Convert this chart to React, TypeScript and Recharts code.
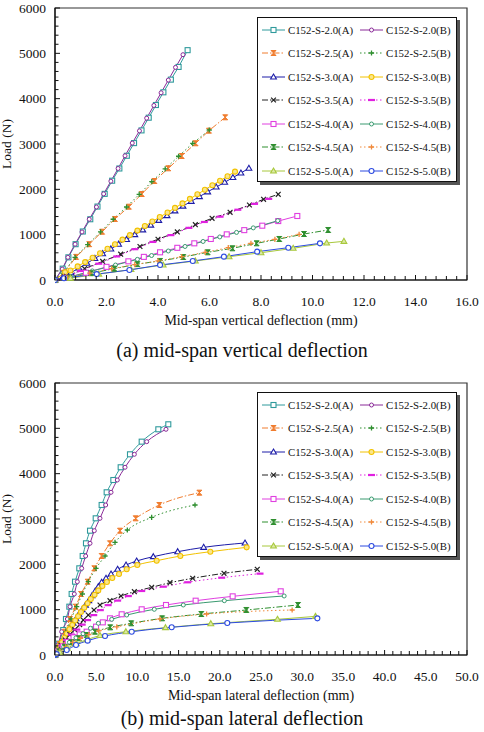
import React from 'react';
import { LineChart, Line, XAxis, YAxis, ReferenceArea, Legend } from 'recharts';

// ---- (a) mid-span vertical deflection: deflection (mm) / load (N) ----
const vert20A_d = [0, 0.30, 0.52, 0.80, 1.08, 1.37, 1.65, 1.93, 2.22, 2.50, 2.79, 3.07, 3.36, 3.64, 3.92, 4.21, 4.50, 4.80, 5.15];
const vert20A_p = [0, 250, 500, 790, 1070, 1340, 1620, 1900, 2190, 2460, 2740, 3020, 3300, 3580, 3860, 4140, 4420, 4700, 5070];
const vert20B_d = [0, 0.28, 0.50, 0.78, 1.05, 1.33, 1.61, 1.89, 2.17, 2.45, 2.72, 3.00, 3.28, 3.56, 3.84, 4.12, 4.40, 4.68, 4.97];
const vert20B_p = [0, 240, 500, 790, 1060, 1340, 1610, 1900, 2180, 2460, 2740, 3020, 3290, 3570, 3850, 4130, 4410, 4690, 4970];
const vert25A_d = [0, 0.35, 0.82, 1.33, 1.83, 2.33, 2.87, 3.37, 3.86, 4.40, 4.92, 5.46, 5.98, 6.61];
const vert25A_p = [0, 160, 510, 790, 1065, 1346, 1617, 1897, 2184, 2464, 2735, 3016, 3294, 3589];
const vert25B_d = [0, 0.30, 0.78, 1.27, 1.77, 2.26, 2.78, 3.27, 3.76, 4.28, 4.80, 5.35, 5.99];
const vert25B_p = [0, 150, 500, 780, 1060, 1340, 1610, 1890, 2170, 2450, 2730, 3015, 3309];
const vert30A_d = [0, 0.30, 0.62, 0.93, 1.24, 1.55, 1.85, 2.17, 2.47, 2.78, 3.10, 3.41, 3.72, 4.03, 4.35, 4.66, 4.97, 5.29, 5.61, 5.93, 6.26, 6.59, 6.91, 7.22, 7.53];
const vert30A_p = [0, 60, 160, 265, 370, 475, 580, 685, 790, 895, 1000, 1105, 1210, 1315, 1420, 1525, 1630, 1735, 1840, 1945, 2050, 2155, 2260, 2360, 2465];
const vert30B_d = [0, 0.39, 0.60, 0.88, 1.17, 1.46, 1.75, 2.04, 2.33, 2.62, 2.91, 3.20, 3.49, 3.78, 4.07, 4.37, 4.66, 4.95, 5.24, 5.53, 5.82, 6.11, 6.41, 6.70, 6.99];
const vert30B_p = [0, 170, 210, 300, 395, 490, 590, 690, 790, 890, 990, 1090, 1190, 1290, 1390, 1490, 1590, 1690, 1790, 1890, 1990, 2090, 2190, 2290, 2390];
const vert35A_d = [0, 0.45, 1.15, 1.85, 2.55, 3.30, 4.00, 4.75, 5.45, 6.10, 6.80, 7.55, 8.10, 8.67];
const vert35A_p = [0, 80, 250, 410, 570, 740, 900, 1060, 1220, 1360, 1493, 1655, 1780, 1890];
const vert35B_d = [0, 0.40, 1.00, 1.70, 2.40, 3.10, 3.80, 4.50, 5.20, 5.80, 6.41, 7.10, 7.75, 8.30];
const vert35B_p = [0, 60, 200, 360, 520, 680, 840, 990, 1150, 1280, 1397, 1550, 1680, 1790];
const vert40A_d = [0, 0.45, 1.20, 2.00, 2.85, 3.45, 4.08, 4.75, 5.41, 6.05, 6.67, 7.35, 8.05, 8.67, 9.41];
const vert40A_p = [0, 50, 160, 290, 412, 510, 611, 710, 809, 905, 1007, 1100, 1198, 1300, 1412];
const vert40B_d = [0, 0.60, 1.45, 2.35, 3.20, 3.75, 4.40, 5.05, 5.75, 6.40, 7.05, 7.70, 8.65];
const vert40B_p = [0, 70, 200, 330, 455, 540, 640, 740, 850, 950, 1050, 1150, 1308];
const vert45A_d = [0, 0.55, 1.40, 2.30, 3.20, 4.08, 4.98, 5.93, 6.89, 7.83, 8.71, 9.67, 10.61];
const vert45A_p = [0, 50, 150, 250, 350, 420, 507, 611, 699, 809, 905, 1015, 1103];
const vert45B_d = [0, 0.50, 1.35, 2.20, 3.10, 4.00, 4.92, 5.83, 6.73, 7.61, 8.54, 9.48];
const vert45B_p = [0, 50, 150, 250, 340, 420, 514, 611, 713, 809, 898, 1008];
const vert50A_d = [0, 0.60, 1.70, 2.95, 4.20, 5.45, 6.76, 8.00, 9.25, 10.55, 11.22];
const vert50A_p = [0, 40, 130, 230, 330, 420, 514, 602, 699, 816, 853];
const vert50B_d = [0, 0.35, 1.62, 2.89, 4.08, 5.35, 6.56, 7.85, 9.06, 10.29];
const vert50B_p = [0, 40, 130, 221, 331, 419, 515, 625, 713, 809];

// ---- (b) mid-span lateral deflection: deflection (mm) / load (N) ----
const lat20A_d = [0, 0.45, 1.00, 1.33, 1.74, 2.02, 2.43, 2.95, 3.36, 3.76, 4.25, 4.94, 5.66, 6.27, 7.08, 7.97, 9.10, 10.52, 12.54, 13.75];
const lat20A_p = [0, 250, 551, 794, 1066, 1346, 1617, 1912, 2184, 2464, 2742, 3015, 3309, 3589, 3860, 4141, 4427, 4706, 4979, 5089];
const lat20B_d = [0, 0.40, 0.81, 1.50, 1.82, 2.34, 2.71, 3.24, 3.72, 4.25, 4.77, 5.46, 6.15, 6.80, 7.56, 8.50, 9.63, 11.13, 13.47];
const lat20B_p = [0, 230, 514, 794, 1066, 1346, 1617, 1912, 2184, 2464, 2742, 3015, 3309, 3589, 3860, 4141, 4427, 4706, 4979];
const lat25A_d = [0, 0.55, 1.21, 1.82, 2.51, 3.16, 3.96, 4.77, 5.66, 6.67, 7.89, 9.79, 12.66, 17.52];
const lat25A_p = [0, 240, 514, 794, 1066, 1346, 1617, 1912, 2184, 2464, 2742, 3015, 3309, 3581];
const lat25B_d = [0, 0.60, 1.30, 1.94, 2.63, 3.32, 4.04, 4.98, 6.07, 7.28, 8.78, 11.73, 16.99];
const lat25B_p = [0, 240, 510, 794, 1066, 1346, 1617, 1912, 2184, 2486, 2757, 3037, 3309];
const lat30A_d = [0, 0.30, 0.60, 0.90, 1.20, 1.50, 1.85, 2.20, 2.55, 2.90, 3.30, 3.70, 4.10, 4.50, 4.88, 5.26, 5.66, 6.19, 6.80, 7.60, 8.62, 9.91, 11.93, 14.89, 18.04, 23.06];
const lat30A_p = [0, 100, 200, 300, 400, 500, 600, 700, 800, 900, 1000, 1100, 1200, 1310, 1410, 1507, 1604, 1692, 1787, 1890, 1985, 2074, 2169, 2279, 2375, 2471];
const lat30B_d = [0, 0.25, 0.55, 0.85, 1.15, 1.45, 1.75, 2.10, 2.45, 2.80, 3.15, 3.55, 3.95, 4.35, 4.80, 5.25, 5.75, 6.30, 6.95, 7.77, 8.70, 9.99, 12.34, 15.21, 18.85, 23.26];
const lat30B_p = [0, 95, 190, 285, 380, 475, 570, 665, 760, 855, 950, 1045, 1140, 1235, 1330, 1425, 1520, 1610, 1700, 1787, 1890, 1985, 2080, 2184, 2279, 2375];
const lat35A_d = [0, 0.30, 0.75, 1.25, 1.80, 2.40, 3.00, 3.43, 4.04, 4.73, 5.46, 6.67, 8.01, 9.63, 11.73, 13.96, 16.71, 20.51, 24.55];
const lat35A_p = [0, 90, 210, 330, 450, 560, 670, 772, 882, 993, 1103, 1198, 1302, 1397, 1493, 1595, 1692, 1802, 1890];
const lat35B_d = [0, 0.35, 0.85, 1.40, 2.00, 2.65, 3.30, 3.95, 4.70, 5.50, 6.45, 7.60, 8.90, 10.52, 13.15, 16.10, 20.23, 24.88];
const lat35B_p = [0, 90, 210, 330, 450, 560, 670, 770, 880, 990, 1100, 1200, 1300, 1412, 1507, 1604, 1705, 1795];
const lat40A_d = [0, 0.40, 0.95, 1.55, 2.25, 3.00, 3.84, 4.98, 5.80, 6.67, 8.09, 10.52, 13.47, 17.07, 21.56, 27.39];
const lat40A_p = [0, 80, 190, 290, 390, 455, 514, 625, 720, 809, 898, 1008, 1103, 1198, 1294, 1405];
const lat40B_d = [0, 0.45, 1.05, 1.75, 2.55, 3.40, 4.30, 5.26, 6.88, 8.70, 12.05, 15.57, 20.55, 27.81];
const lat40B_p = [0, 80, 180, 280, 380, 470, 590, 699, 787, 882, 1008, 1103, 1198, 1302];
const lat45A_d = [0, 0.50, 1.20, 2.00, 2.90, 3.85, 4.85, 6.70, 9.25, 13.00, 17.76, 23.22, 29.50];
const lat45A_p = [0, 80, 180, 280, 370, 440, 514, 610, 699, 809, 904, 993, 1103];
const lat45B_d = [0, 0.55, 1.30, 2.15, 3.10, 4.10, 5.30, 7.50, 12.74, 18.40, 28.78];
const lat45B_p = [0, 80, 180, 280, 370, 450, 530, 620, 794, 904, 993];
const lat50A_d = [0, 0.60, 1.50, 2.60, 3.90, 5.46, 8.60, 13.41, 18.91, 27.00, 31.61];
const lat50A_p = [0, 60, 150, 250, 340, 430, 514, 603, 690, 787, 852];
const lat50B_d = [0, 0.20, 1.42, 2.55, 3.96, 6.07, 9.31, 14.16, 20.91, 31.84];
const lat50B_p = [0, 20, 110, 221, 316, 419, 514, 611, 706, 809];

// axis labels
const loadTicks = [0, 1000, 2000, 3000, 4000, 5000, 6000];
const vertTicks = [0, 2, 4, 6, 8, 10, 12, 14, 16];
const latTicks = [0, 5, 10, 15, 20, 25, 30, 35, 40, 45, 50];

const FONT = '"Liberation Serif", "Times New Roman", serif';

type Shape = 'square' | 'circle' | 'dot' | 'hourglass' | 'plus' | 'triangle' | 'cross' | 'bar';

interface Spec {
  name: string;
  color: string;
  fill: string;
  dash?: string;
  shape: Shape;
}

// one entry per specimen, legend order is row by row (A, B)
const specs: Spec[] = [
  { name: 'C152-S-2.0(A)', color: '#2f9a9c', fill: '#fff', shape: 'square' },
  { name: 'C152-S-2.0(B)', color: '#8a2a98', fill: '#fff', shape: 'dot' },
  { name: 'C152-S-2.5(A)', color: '#f07c2e', fill: '#f07c2e', dash: '6 2 1.5 2', shape: 'hourglass' },
  { name: 'C152-S-2.5(B)', color: '#2f8f2f', fill: '#2f8f2f', dash: '1.5 2.5', shape: 'plus' },
  { name: 'C152-S-3.0(A)', color: '#1c1ca8', fill: '#fff', shape: 'triangle' },
  { name: 'C152-S-3.0(B)', color: '#f2c200', fill: '#fbe68a', shape: 'circle' },
  { name: 'C152-S-3.5(A)', color: '#222222', fill: '#222', dash: '6 2 1.5 2', shape: 'cross' },
  { name: 'C152-S-3.5(B)', color: '#e020e0', fill: '#e020e0', dash: '1.5 2.5', shape: 'bar' },
  { name: 'C152-S-4.0(A)', color: '#e040e0', fill: '#fff', shape: 'square' },
  { name: 'C152-S-4.0(B)', color: '#3a9a70', fill: '#fff', shape: 'dot' },
  { name: 'C152-S-4.5(A)', color: '#2f8f2f', fill: '#2f8f2f', dash: '6 2 1.5 2', shape: 'hourglass' },
  { name: 'C152-S-4.5(B)', color: '#f08a3c', fill: '#f08a3c', dash: '1.5 2.5', shape: 'plus' },
  { name: 'C152-S-5.0(A)', color: '#a8c83c', fill: '#dbe9a6', shape: 'triangle' },
  { name: 'C152-S-5.0(B)', color: '#2d4be0', fill: '#fff', shape: 'circle' },
];

const vertData: [number[], number[]][] = [
  [vert20A_d, vert20A_p], [vert20B_d, vert20B_p], [vert25A_d, vert25A_p], [vert25B_d, vert25B_p],
  [vert30A_d, vert30A_p], [vert30B_d, vert30B_p], [vert35A_d, vert35A_p], [vert35B_d, vert35B_p],
  [vert40A_d, vert40A_p], [vert40B_d, vert40B_p], [vert45A_d, vert45A_p], [vert45B_d, vert45B_p],
  [vert50A_d, vert50A_p], [vert50B_d, vert50B_p],
];

const latData: [number[], number[]][] = [
  [lat20A_d, lat20A_p], [lat20B_d, lat20B_p], [lat25A_d, lat25A_p], [lat25B_d, lat25B_p],
  [lat30A_d, lat30A_p], [lat30B_d, lat30B_p], [lat35A_d, lat35A_p], [lat35B_d, lat35B_p],
  [lat40A_d, lat40A_p], [lat40B_d, lat40B_p], [lat45A_d, lat45A_p], [lat45B_d, lat45B_p],
  [lat50A_d, lat50A_p], [lat50B_d, lat50B_p],
];

const toPoints = ([d, p]: [number[], number[]]) => d.map((defl, i) => ({ defl, load: p[i] }));

// point marker drawn at (cx, cy)
function Marker({ shape, color, fill, cx, cy }: { shape: Shape; color: string; fill: string; cx: number; cy: number }) {
  if (cx == null || cy == null) return null;
  switch (shape) {
    case 'square':
      return <rect x={cx - 2.5} y={cy - 2.5} width={5} height={5} fill={fill} stroke={color} strokeWidth={1.1} />;
    case 'circle':
      return <circle cx={cx} cy={cy} r={2.5} fill={fill} stroke={color} strokeWidth={1.1} />;
    case 'dot':
      return <circle cx={cx} cy={cy} r={2} fill={fill} stroke={color} strokeWidth={1} />;
    case 'triangle':
      return (
        <path d={`M${cx},${cy - 3} L${cx + 2.9},${cy + 2} L${cx - 2.9},${cy + 2} Z`} fill={fill} stroke={color} strokeWidth={1.1} />
      );
    case 'hourglass':
      return (
        <path d={`M${cx - 2.5},${cy - 2.5} H${cx + 2.5} L${cx - 2.5},${cy + 2.5} H${cx + 2.5} Z`} fill={fill} stroke={color} strokeWidth={1} />
      );
    case 'plus':
      return (
        <path d={`M${cx - 2.6},${cy} H${cx + 2.6} M${cx},${cy - 2.6} V${cy + 2.6}`} stroke={color} strokeWidth={1.3} fill="none" />
      );
    case 'cross':
      return (
        <path d={`M${cx - 2.4},${cy - 2.4} L${cx + 2.4},${cy + 2.4} M${cx - 2.4},${cy + 2.4} L${cx + 2.4},${cy - 2.4}`} stroke={color} strokeWidth={1.2} fill="none" />
      );
    case 'bar':
      return <rect x={cx - 3.5} y={cy - 1.1} width={7} height={2.2} fill={color} />;
    default:
      return null;
  }
}

function LegendBox() {
  return (
    <div
      style={{
        width: 200,
        height: 165,
        boxSizing: 'border-box',
        border: '1px solid #111',
        background: '#fff',
        boxShadow: '3px 3px 0 #555',
        display: 'grid',
        gridTemplateColumns: '98px 98px',
        gridAutoRows: '23.5px',
        fontFamily: FONT,
        fontSize: 10.8,
        color: '#111',
      }}
    >
      {specs.map((s) => (
        <div key={s.name} style={{ display: 'flex', alignItems: 'center', whiteSpace: 'nowrap' }}>
          <svg width={23} height={10} style={{ marginLeft: 4, marginRight: 3, overflow: 'visible' }}>
            <line x1={0} y1={5} x2={23} y2={5} stroke={s.color} strokeWidth={1} strokeDasharray={s.dash} />
            <Marker shape={s.shape} color={s.color} fill={s.fill} cx={11.5} cy={5} />
          </svg>
          <span>{s.name}</span>
        </div>
      ))}
    </div>
  );
}

// ticks drawn inward, with labels on the major ones
function XTick(props: any) {
  const { x, y, payload, majors } = props;
  const v = payload.value;
  const major = majors.some((m: number) => Math.abs(m - v) < 1e-6);
  return (
    <g>
      <line x1={x} y1={y} x2={x} y2={y - (major ? 5 : 4)} stroke="#111" strokeWidth={1} />
      {major && (
        <text x={x} y={y + 26} textAnchor="middle" fontFamily={FONT} fontSize={13.5} fill="#111">
          {v.toFixed(1)}
        </text>
      )}
    </g>
  );
}

function YTick(props: any) {
  const { x, y, payload } = props;
  const v = payload.value;
  const major = loadTicks.includes(v);
  return (
    <g>
      <line x1={x} y1={y} x2={x + (major ? 5 : 3.5)} y2={y} stroke="#111" strokeWidth={1} />
      {major && (
        <text x={x - 9} y={y + 4.7} textAnchor="end" fontFamily={FONT} fontSize={13.5} fill="#111">
          {v}
        </text>
      )}
    </g>
  );
}

function YTitle({ viewBox }: any) {
  const cx = (viewBox?.x ?? 0) + 11;
  const cy = (viewBox?.y ?? 0) + (viewBox?.height ?? 0) / 2;
  return (
    <text x={cx} y={cy} transform={`rotate(-90 ${cx} ${cy})`} textAnchor="middle" fontFamily={FONT} fontSize={13.5} fill="#111">
      Load (N)
    </text>
  );
}

function XTitle({ viewBox, text }: any) {
  const cx = (viewBox?.x ?? 0) + (viewBox?.width ?? 0) / 2;
  const y = (viewBox?.y ?? 0) + 45;
  return (
    <text x={cx} y={y} textAnchor="middle" fontFamily={FONT} fontSize={14} fill="#111">
      {text}
    </text>
  );
}

function Panel({ data, majors, step, xMax, xTitle, smooth }: {
  data: [number[], number[]][];
  majors: number[];
  step: number;
  xMax: number;
  xTitle: string;
  smooth: boolean;
}) {
  const xTicks: number[] = [];
  for (let i = 0; i <= Math.round(xMax / step); i++) xTicks.push(+(i * step).toFixed(2));
  const yTicks: number[] = [];
  for (let v = 0; v <= 6000; v += 200) yTicks.push(v);

  return (
    <LineChart width={484} height={335} margin={{ top: 8, right: 17, bottom: 0, left: 0 }}>
      <XAxis
        type="number"
        dataKey="defl"
        domain={[0, xMax]}
        ticks={xTicks}
        interval={0}
        allowDataOverflow
        height={55}
        tickSize={0}
        tickMargin={0}
        tickLine={false}
        axisLine={{ stroke: '#111', strokeWidth: 1.2 }}
        tick={<XTick majors={majors} />}
        label={<XTitle text={xTitle} />}
      />
      <YAxis
        type="number"
        domain={[0, 6000]}
        ticks={yTicks}
        interval={0}
        width={55}
        tickSize={0}
        tickMargin={0}
        tickLine={false}
        axisLine={{ stroke: '#111', strokeWidth: 1.2 }}
        tick={<YTick />}
        label={<YTitle />}
      />
      <ReferenceArea x1={0} x2={xMax} y1={0} y2={6000} fill="none" stroke="#333" strokeWidth={1.2} />
      {specs.map((s, i) => (
        <Line
          key={s.name}
          data={toPoints(data[i])}
          dataKey="load"
          name={s.name}
          type={smooth ? 'monotone' : 'linear'}
          stroke={s.color}
          strokeWidth={1}
          strokeDasharray={s.dash}
          dot={(p: any) => (
            <Marker key={`${s.name}-${p.index}`} shape={s.shape} color={s.color} fill={s.fill} cx={p.cx} cy={p.cy} />
          )}
          activeDot={false}
          isAnimationActive={false}
        />
      ))}
      <Legend
        layout="horizontal"
        align="center"
        verticalAlign="middle"
        content={() => <LegendBox />}
        wrapperStyle={{ left: 257, top: 17, width: 200, height: 165 }}
      />
    </LineChart>
  );
}

const captionStyle: React.CSSProperties = {
  position: 'absolute',
  left: 0,
  width: 484,
  textAlign: 'center',
  fontFamily: FONT,
  fontSize: 20,
  color: '#111',
  lineHeight: '22px',
};

export default function App() {
  return (
    <div style={{ position: 'relative', width: 484, height: 732, background: '#fff', overflow: 'hidden' }}>
      <style>{'body{margin:0}'}</style>
      <div style={{ position: 'absolute', left: 0, top: 0 }}>
        <Panel data={vertData} majors={vertTicks} step={0.4} xMax={16} xTitle="Mid-span vertical deflection (mm)" smooth={false} />
      </div>
      <div style={{ ...captionStyle, top: 339 }}>(a) mid-span vertical deflection</div>
      <div style={{ position: 'absolute', left: 0, top: 375 }}>
        <Panel data={latData} majors={latTicks} step={1} xMax={50} xTitle="Mid-span lateral deflection (mm)" smooth />
      </div>
      <div style={{ ...captionStyle, top: 707 }}>(b) mid-span lateral deflection</div>
    </div>
  );
}
